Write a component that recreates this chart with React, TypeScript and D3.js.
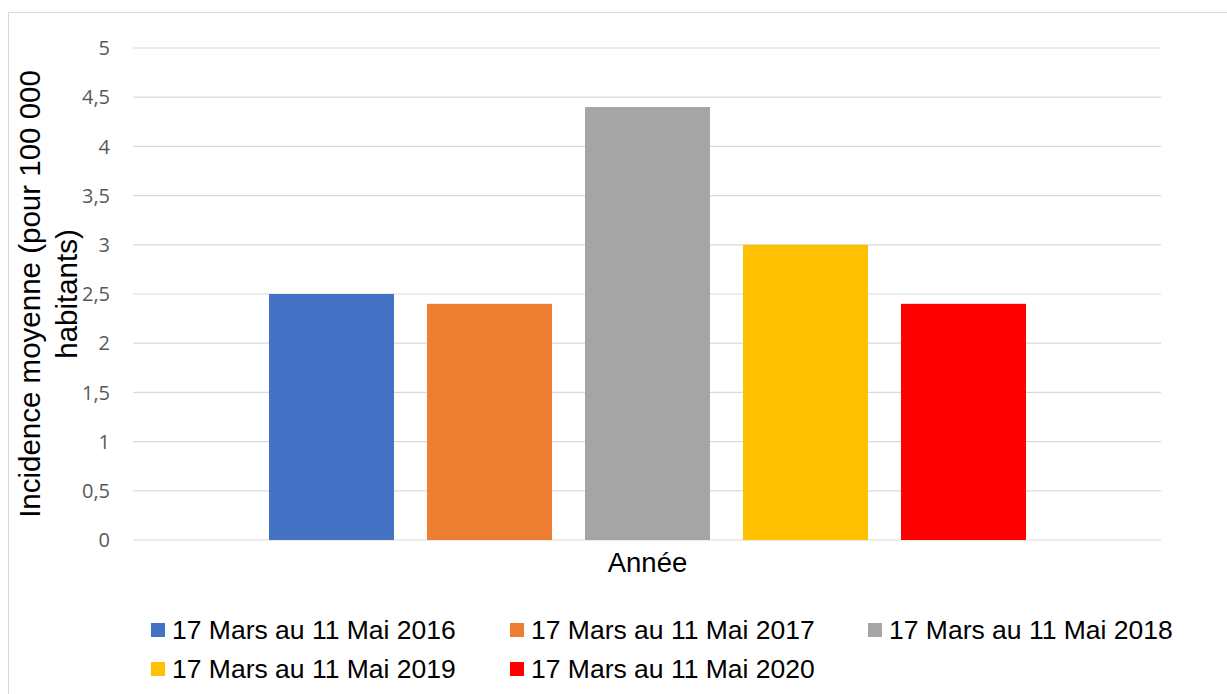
import React from 'react';
import * as d3 from 'd3';

const categories = ['Année'];
const seriesNames = [
  '17 Mars au 11 Mai 2016',
  '17 Mars au 11 Mai 2017',
  '17 Mars au 11 Mai 2018',
  '17 Mars au 11 Mai 2019',
  '17 Mars au 11 Mai 2020',
];
const seriesValues = [2.5, 2.4, 4.4, 3.0, 2.4];
const seriesColors = ['#4472C4', '#ED7D31', '#A5A5A5', '#FFC000', '#FF0000'];
const yTicks = [0, 0.5, 1, 1.5, 2, 2.5, 3, 3.5, 4, 4.5, 5];

const W = 1227;
const H = 694;
const margin = { top: 48, right: 66, bottom: 154, left: 134 };

function App() {
  const plotW = W - margin.left - margin.right;
  const plotH = H - margin.top - margin.bottom;

  const x0 = d3.scaleBand().domain(categories).range([0, plotW]).paddingInner(0).paddingOuter(0.15);
  const x1 = d3.scaleBand().domain(seriesNames).range([0, x0.bandwidth()]).paddingInner(0.209).paddingOuter(0.1045);
  const y = d3.scaleLinear().domain([0, 5]).range([plotH, 0]);
  const fmt = (v) => String(v).replace('.', ',');

  const legendCols = [151, 510, 868];
  const legendRows = [623, 662];

  return (
    <svg width={W} height={H} style={{ position: 'absolute', left: 0, top: 0, overflow: 'hidden' }}>
      <rect x={0} y={0} width={W} height={H} fill="#fff" />
      <rect x={8.5} y={12.5} width={1240} height={720} fill="#fff" stroke="#d9d9d9" strokeWidth={1} />
      <g transform={`translate(${margin.left},${margin.top})`}>
        {yTicks.map(t => (
          <g key={t}>
            <line x1={-1} x2={plotW} y1={y(t)} y2={y(t)} stroke="#d9d9d9" strokeWidth={1.2} />
            <text x={-24} y={y(t)} dy="0.36em" textAnchor="end" fontFamily="'Open Sans', sans-serif" fontSize={20} fill="#595959">
              {fmt(t)}
            </text>
          </g>
        ))}
        {categories.map(c => (
          <g key={c} transform={`translate(${x0(c)},0)`}>
            {seriesNames.map((s, i) => (
              <rect key={s} x={x1(s)} y={y(seriesValues[i])} width={x1.bandwidth()} height={plotH - y(seriesValues[i])} fill={seriesColors[i]} />
            ))}
          </g>
        ))}
        {categories.map(c => (
          <text key={c} x={x0(c) + x0.bandwidth() / 2} y={plotH + 32} textAnchor="middle" fontFamily="'Liberation Sans', Arial, sans-serif" fontSize={27.5} fill="#000">
            {c}
          </text>
        ))}
      </g>
      <g transform={`translate(40,${margin.top + plotH / 2}) rotate(-90)`}>
        <text x={0} y={0} textAnchor="middle" fontFamily="'Liberation Sans', Arial, sans-serif" fontSize={29.5} fill="#000">
          Incidence moyenne (pour 100 000
        </text>
        <text x={0} y={37} textAnchor="middle" fontFamily="'Liberation Sans', Arial, sans-serif" fontSize={29.5} fill="#000">
          habitants)
        </text>
      </g>
      {seriesNames.map((s, i) => {
        const cx = legendCols[i % 3];
        const cy = legendRows[Math.floor(i / 3)];
        return (
          <g key={s}>
            <rect x={cx} y={cy} width={14} height={14} fill={seriesColors[i]} />
            <text x={cx + 21} y={cy + 16} fontFamily="'Liberation Sans', Arial, sans-serif" fontSize={26.5} fill="#000">
              {s}
            </text>
          </g>
        );
      })}
    </svg>
  );
}

export default App;
